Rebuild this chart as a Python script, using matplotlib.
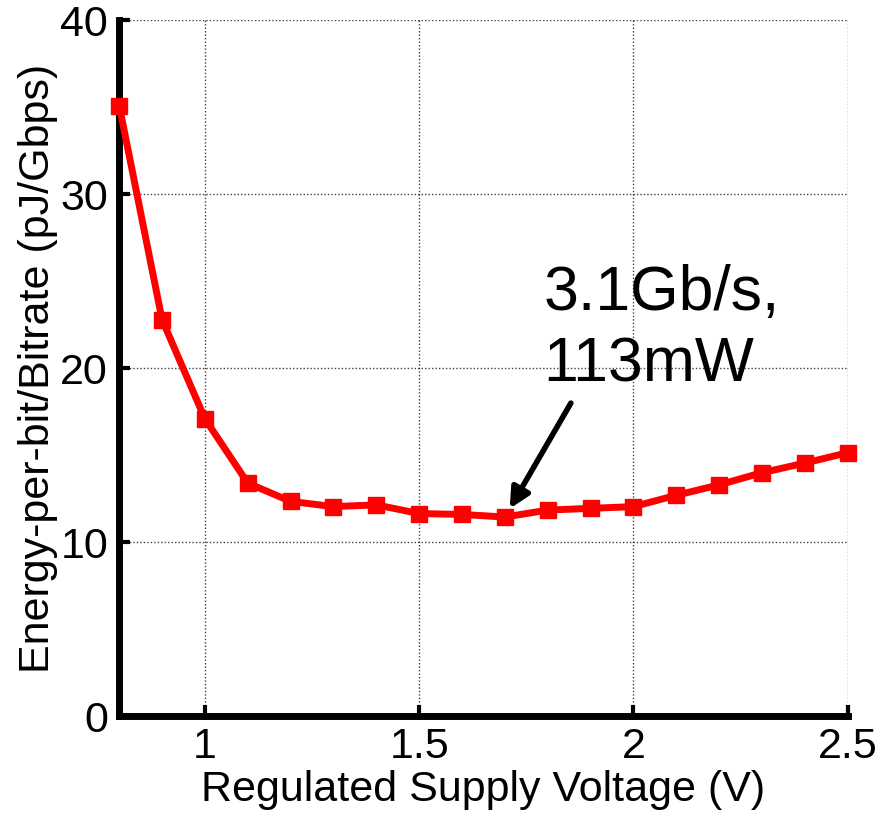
import matplotlib.pyplot as plt
import numpy as np

plt.rcParams["font.family"] = ["Liberation Sans", "DejaVu Sans"]

voltage = [0.8, 0.9, 1.0, 1.1, 1.2, 1.3, 1.4, 1.5, 1.6, 1.7,
           1.8, 1.9, 2.0, 2.1, 2.2, 2.3, 2.4, 2.5]
energy = [35.1, 22.8, 17.1, 13.4, 12.35, 12.05, 12.15, 11.65, 11.6, 11.45,
          11.85, 11.95, 12.05, 12.7, 13.3, 14.0, 14.55, 15.15]

x_ticks = [1, 1.5, 2, 2.5]
x_tick_labels = ["1", "1.5", "2", "2.5"]
y_ticks = [0, 10, 20, 30, 40]

note_text = "3.1Gb/s,\n113mW"
note_idx = 9

fig = plt.figure(figsize=(8.83, 8.13), dpi=100)
ax = fig.add_axes([0.135, 0.119, 0.825, 0.856])

ax.plot(voltage, energy, color="red", linewidth=5, marker="s",
        markersize=11, clip_on=False, zorder=3)

ax.set_xlim(0.8, 2.5)
ax.set_ylim(0, 40)
ax.set_xticks(x_ticks)
ax.set_xticklabels(x_tick_labels)
ax.set_yticks(y_ticks)

ax.grid(True, linestyle=(0, (1, 1.5)), color="black", linewidth=1, alpha=0.75)
ax.set_axisbelow(True)

for side in ["top", "right"]:
    ax.spines[side].set_visible(False)
for side in ["left", "bottom"]:
    ax.spines[side].set_linewidth(5)

ax.tick_params(direction="in", length=8, width=3, labelsize=31, pad=8)
ax.set_xlabel("Regulated Supply Voltage (V)", fontsize=31, labelpad=2)
ax.set_ylabel("Energy-per-bit/Bitrate (pJ/Gbps)", fontsize=31, labelpad=2)

ax.annotate(note_text, xy=(voltage[note_idx], energy[note_idx]),
            xytext=(1.79, 26.0), fontsize=45, ha="left", va="top",
            linespacing=1.27)
ax.annotate("", xy=(voltage[note_idx], energy[note_idx]),
            xytext=(1.854, 18.0),
            arrowprops=dict(arrowstyle="-|>", color="black", lw=4,
                            mutation_scale=30, shrinkA=0, shrinkB=7))

fig.savefig("out.png", dpi=100)
